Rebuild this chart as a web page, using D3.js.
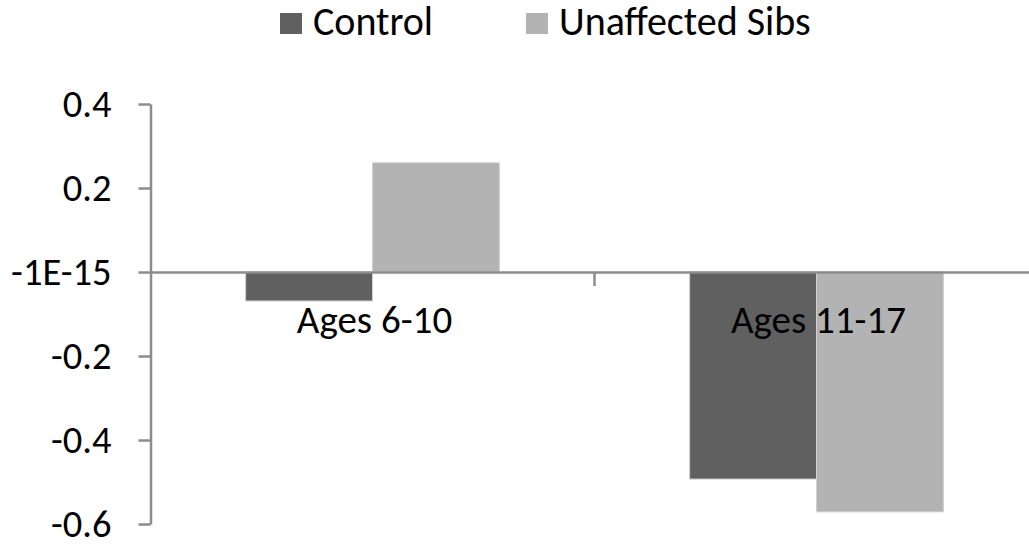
<!DOCTYPE html>
<html>
<head>
<meta charset="utf-8">
<script src="https://cdn.jsdelivr.net/npm/d3@7"></script>
<style>
body{margin:0;background:#fff;}
svg text{font-family:Carlito,'Liberation Sans Narrow','DejaVu Sans Condensed','Open Sans',sans-serif;fill:#000;}
</style>
</head>
<body>
<script>
var categories=['Ages 6-10','Ages 11-17'];
var seriesNames=['Control','Unaffected Sibs'];
var controlValues=[-0.069,-0.493];
var sibsValues=[0.26,-0.571];
var yTicks=[0.4,0.2,0,-0.2,-0.4,-0.6];
var yTickLabels=['0.4','0.2','-1E-15','-0.2','-0.4','-0.6'];
var colors=['#606060','#b3b3b3'];

var width=1029,height=544;
var svg=d3.select('body').append('svg')
.attr('width',width)
.attr('height',height);

var yScale=d3.scaleLinear()
.domain([-0.6,0.4])
.range([524,104]);

var xScale=d3.scaleBand()
.domain(categories)
.range([150.5,1038.5])
.paddingInner(0)
.paddingOuter(0);

var inner=d3.scaleBand()
.domain(seriesNames)
.range([0,xScale.bandwidth()])
.paddingOuter(0.75)
.paddingInner(0);

var table=categories.map(function(c,i){
    return {cat:c,values:[{name:seriesNames[0],v:controlValues[i]},{name:seriesNames[1],v:sibsValues[i]}]};
});

// bars
var groups=svg.append('g').selectAll('g')
.data(table)
.enter()
.append('g')
.attr('transform',function(d){return 'translate('+xScale(d.cat)+',0)';});

groups.selectAll('rect')
.data(function(d){return d.values;})
.enter()
.append('rect')
.attr('x',function(d){return inner(d.name);})
.attr('width',inner.bandwidth())
.attr('y',function(d){return yScale(Math.max(0,d.v));})
.attr('height',function(d){return Math.abs(yScale(d.v)-yScale(0));})
.style('fill',function(d,i){return colors[i];})
.style('stroke','#d0d0d0')
.style('stroke-width',1);

// y axis
var yAxis=d3.axisLeft(yScale)
.tickValues(yTicks)
.tickFormat(function(d,i){return yTickLabels[i];})
.tickSize(12)
.tickPadding(27)
.tickSizeOuter(0);

var yG=svg.append('g')
.attr('transform','translate(150.5,0)')
.call(yAxis);
yG.select('.domain').attr('stroke','#8c8c8c').attr('stroke-width',2.5);
yG.selectAll('.tick line').attr('stroke','#8c8c8c').attr('stroke-width',2.5);
yG.selectAll('.tick text').style('font-size','38.5px').style('font-family',null);

// x axis along zero
var xAxis=d3.axisBottom(xScale)
.tickFormat('')
.tickSize(0)
.tickSizeOuter(0);
var xG=svg.append('g')
.attr('transform','translate(0,'+yScale(0)+')')
.call(xAxis);
xG.select('.domain').attr('stroke','#8c8c8c').attr('stroke-width',2.5);
xG.selectAll('.tick').remove();
xG.append('line')
.attr('x1',xScale(categories[1])).attr('x2',xScale(categories[1]))
.attr('y1',0).attr('y2',14)
.attr('stroke','#8c8c8c').attr('stroke-width',2.5);

// category labels
svg.append('g').selectAll('text')
.data(categories)
.enter()
.append('text')
.attr('x',function(d){return xScale(d)+xScale.bandwidth()/2+2;})
.attr('y',yScale(0)+61)
.attr('text-anchor','middle')
.style('font-size','39px')
.text(function(d){return d;});

// legend
var legendX=[280,526];
var legend=svg.append('g').selectAll('g')
.data(seriesNames)
.enter()
.append('g')
.attr('transform',function(d,i){return 'translate('+legendX[i]+',13)';});
legend.append('rect')
.attr('width',22)
.attr('height',21)
.style('fill',function(d,i){return colors[i];});
legend.append('text')
.attr('x',33)
.attr('y',22)
.style('font-size','40px')
.text(function(d){return d;});
</script>
</body>
</html>
